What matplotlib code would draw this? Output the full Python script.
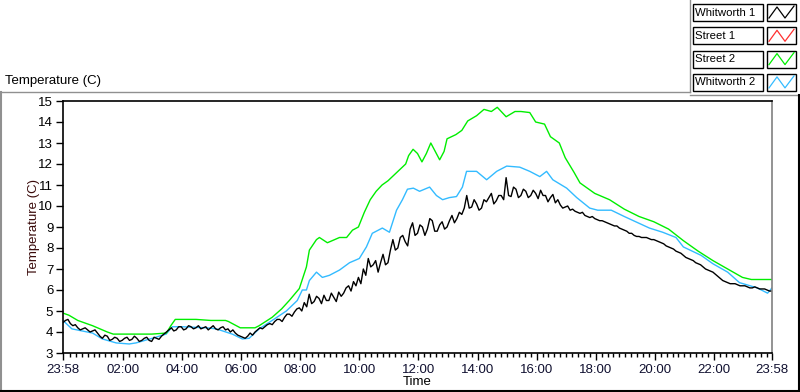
import matplotlib
matplotlib.use("Agg")
import matplotlib.pyplot as plt
from matplotlib.lines import Line2D
from matplotlib.patches import Rectangle

# hours since 23:58
green_t = [0, 0.2, 0.5, 1.0, 1.5, 1.7, 2.0, 2.5, 3.0, 3.5, 3.65, 3.8, 4.0, 4.5, 5.0, 5.5,
           5.6, 5.8, 6.0, 6.5, 6.64, 7.08, 7.4, 7.66, 8.0, 8.24, 8.34, 8.58, 8.68, 8.95,
           9.36, 9.6, 9.8, 10.0, 10.2, 10.4, 10.6, 10.8, 11.0, 11.3, 11.6, 11.7, 11.85,
           12.0, 12.15, 12.3, 12.45, 12.6, 12.75, 12.9, 13.0, 13.3, 13.5, 13.7, 14.0,
           14.25, 14.5, 14.7, 15.0, 15.3, 15.5, 15.8, 16.0, 16.3, 16.5, 16.8, 17.0, 17.3,
           17.5, 18.0, 18.5, 19.0, 19.5, 20.0, 20.5, 21.0, 21.5, 22.0, 22.5, 23.0, 23.3,
           23.5, 24.0]
green_v = [4.9, 4.8, 4.55, 4.3, 4.0, 3.9, 3.9, 3.9, 3.9, 3.95, 4.3, 4.6, 4.6, 4.6, 4.55,
           4.55, 4.5, 4.35, 4.2, 4.2, 4.3, 4.7, 5.1, 5.5, 6.07, 7.1, 7.9, 8.4, 8.5, 8.25,
           8.5, 8.5, 8.85, 9.0, 9.7, 10.3, 10.7, 11.0, 11.2, 11.6, 12.0, 12.4, 12.7,
           12.5, 12.1, 12.5, 13.0, 12.6, 12.2, 12.6, 13.2, 13.4, 13.6, 14.05, 14.3,
           14.6, 14.5, 14.7, 14.25, 14.5, 14.5, 14.45, 14.0, 13.9, 13.3, 13.0, 12.3, 11.6,
           11.1, 10.6, 10.3, 9.85, 9.5, 9.25, 8.9, 8.35, 7.85, 7.4, 7.0, 6.6, 6.5,
           6.5, 6.5]

blue_t = [0, 0.3, 1.0, 1.33, 1.8, 2.24, 2.47, 3.02, 3.49, 3.7, 4.03, 4.85, 5.19, 5.73,
          6.07, 6.3, 6.64, 7.08, 7.56, 7.93, 8.1, 8.24, 8.34, 8.58, 8.78, 9.02, 9.36,
          9.7, 10.03, 10.27, 10.47, 10.81, 11.05, 11.29, 11.49, 11.66, 11.86, 12.07,
          12.41, 12.64, 12.85, 13.08, 13.32, 13.52, 13.66, 14.0, 14.34, 14.68, 15.02,
          15.46, 15.8, 16.14, 16.37, 16.58, 17.05, 17.39, 17.83, 18.1, 18.56, 19.0,
          19.85, 20.3, 20.75, 21.0, 21.6, 22.0, 22.5, 22.9, 23.5, 23.85, 24.0]
blue_v = [4.55, 4.15, 3.95, 3.67, 3.48, 3.43, 3.48, 3.7, 3.9, 4.25, 4.25, 4.2, 4.15,
          3.9, 3.67, 3.7, 4.15, 4.55, 5.0, 5.5, 6.0, 6.0, 6.45, 6.85, 6.6, 6.7, 6.95,
          7.3, 7.5, 8.05, 8.7, 8.95, 8.75, 9.8, 10.3, 10.8, 10.85, 10.7,
          10.9, 10.5, 10.3, 10.4, 10.45, 10.9, 11.65, 11.65, 11.25, 11.65, 11.9,
          11.85, 11.65, 11.4, 11.65, 11.25, 10.85, 10.4, 9.9, 9.8, 9.8, 9.5,
          8.95, 8.75, 8.5, 8.05, 7.65, 7.25, 6.85, 6.35, 6.1, 5.85, 6.1]

# Whitworth 1, one value every 5 minutes
black_v = [4.45, 4.55, 4.6, 4.4, 4.3, 4.35, 4.2, 4.1, 4.15, 4.2, 4.1, 4.0, 4.05, 4.1,
           3.95, 3.8, 3.7, 3.85, 3.8, 3.6, 3.65, 3.75, 3.7, 3.55, 3.6, 3.7, 3.75, 3.6,
           3.65, 3.8, 3.7, 3.55, 3.6, 3.7, 3.75, 3.6, 3.55, 3.75, 3.7, 3.65, 3.8, 3.9,
           4.0, 4.1, 4.2, 4.05, 4.1, 4.25, 4.25, 4.1, 4.15, 4.3, 4.25, 4.15, 4.2, 4.3,
           4.15, 4.2, 4.25, 4.1, 4.2, 4.3, 4.15, 4.1, 4.2, 4.25, 4.1, 4.15, 4.0, 4.1,
           3.95, 3.85, 3.8, 3.75, 3.7, 3.8, 3.95, 3.85, 4.0, 4.1, 4.2, 4.15, 4.25, 4.35,
           4.4, 4.35, 4.5, 4.6, 4.6, 4.5, 4.7, 4.85, 4.85, 4.75, 4.95, 5.1, 5.15, 5.0,
           5.4, 5.2, 5.8, 5.35, 5.45, 5.7, 5.6, 5.35, 5.75, 5.5, 5.5, 5.85, 5.65, 5.45,
           5.9, 5.7, 5.85, 6.1, 6.2, 5.95, 6.4, 6.2, 6.6, 6.3, 7.0, 6.7, 7.5, 7.1,
           7.2, 7.4, 6.85, 7.3, 7.7, 7.2, 7.3, 7.9, 8.4, 7.9, 8.0, 8.5, 8.6, 8.3,
           8.1, 8.9, 9.2, 8.6, 8.7, 9.1, 9.0, 8.6, 8.9, 9.4, 9.3, 8.8, 8.8, 9.1,
           9.25, 8.9, 9.0, 9.3, 9.55, 9.2, 9.4, 9.7, 9.6, 9.9, 10.5, 9.9, 9.95, 10.3,
           10.1, 9.8, 9.9, 10.3, 10.2, 10.4, 10.6, 10.1, 10.25, 10.5, 10.5, 10.3,
           11.35, 10.5, 10.45, 10.9, 10.8, 10.4, 10.5, 10.8, 10.7, 10.4, 10.5, 10.75,
           10.6, 10.35, 10.75, 10.5, 10.5, 10.2, 10.4, 10.55, 10.15, 10.3, 10.05, 9.9,
           9.95, 10.0, 9.8, 9.85, 9.75, 9.7, 9.65, 9.7, 9.55, 9.5, 9.45, 9.5, 9.4, 9.35,
           9.3, 9.3, 9.25, 9.2, 9.15, 9.1, 9.05, 9.05, 8.95, 8.9, 8.85, 8.8, 8.7, 8.7,
           8.6, 8.55, 8.55, 8.5, 8.5, 8.5, 8.45, 8.4, 8.4, 8.35, 8.3, 8.25, 8.2, 8.1,
           8.05, 8.0, 7.95, 7.85, 7.8, 7.75, 7.65, 7.55, 7.5, 7.45, 7.4, 7.3, 7.25, 7.2,
           7.1, 7.0, 6.95, 6.9, 6.85, 6.75, 6.65, 6.55, 6.45, 6.4, 6.35, 6.3, 6.3, 6.3,
           6.25, 6.2, 6.2, 6.2, 6.15, 6.1, 6.1, 6.15, 6.1, 6.05, 6.05, 6.05, 6.0, 5.95,
           5.95]
black_t = [i / 12 for i in range(len(black_v))]

street1_t = []
street1_v = []

series_names = ["Whitworth 1", "Street 1", "Street 2", "Whitworth 2"]
series_colors = ["#000000", "#ff3030", "#00ee00", "#33bbff"]

tick_labels = ["23:58", "02:00", "04:00", "06:00", "08:00", "10:00", "12:00",
               "14:00", "16:00", "18:00", "20:00", "22:00", "23:58"]

plt.rcParams['font.family'] = ['Liberation Sans', 'DejaVu Sans']
FS = 9.5
W, H = 800, 392
fig = plt.figure(figsize=(8, 3.92), dpi=100)
fig.patch.set_facecolor("white")

def fx(px):
    return px / W

def fy(py):
    return 1 - py / H

ax = fig.add_axes([fx(63), fy(353), fx(772) - fx(63), fy(101) - fy(353)])
ax.plot(blue_t, blue_v, color=series_colors[3], lw=1.0)
ax.plot(green_t, green_v, color=series_colors[2], lw=1.0)
ax.plot(street1_t, street1_v, color=series_colors[1], lw=1.0)
ax.plot(black_t, black_v, color=series_colors[0], lw=1.0)

ax.set_xlim(0, 24)
ax.set_ylim(3, 15)
major = [0] + [2 * i + 2 / 60 for i in range(1, 12)] + [24]
ax.set_xticks(major)
ax.set_xticklabels(tick_labels, fontsize=FS, color="#101030")
minor = [2 / 60 + 0.2 * k for k in range(120) if k % 10 != 0]
ax.set_xticks(minor, minor=True)
ax.set_yticks(range(3, 16))
ax.tick_params(axis="y", labelsize=FS, length=5, width=1, pad=2)
ax.tick_params(axis="x", which="major", length=5, width=1, pad=3)
ax.tick_params(axis="x", which="minor", length=3, width=1)
for s in ["left", "bottom", "top"]:
    ax.spines[s].set_color("black")
    ax.spines[s].set_linewidth(1.2)
ax.spines["right"].set_color("#808080")
ax.spines["right"].set_linewidth(1.2)

ax.set_xlabel("Time", fontsize=FS, labelpad=0)
ax.set_ylabel("Temperature (C)", fontsize=FS, color="#3a0a0a", labelpad=-1)

fig.text(fx(5), fy(81), "Temperature (C)", fontsize=FS, va="center", ha="left")

# outer frame
fig.add_artist(Line2D([fx(1), fx(690)], [fy(92), fy(92)], color="#909090", lw=1))
fig.add_artist(Line2D([fx(1), fx(1)], [fy(92), fy(392)], color="#909090", lw=1.5))
fig.add_artist(Line2D([fx(690), fx(690)], [fy(0), fy(92)], color="#909090", lw=1))
fig.add_artist(Line2D([fx(690), fx(800)], [fy(95), fy(95)], color="#909090", lw=1))
fig.add_artist(Line2D([fx(0), fx(800)], [fy(391), fy(391)], color="black", lw=1.5))
fig.add_artist(Line2D([fx(799), fx(799)], [fy(95), fy(392)], color="black", lw=1.5))

# legend
for i, (name, col) in enumerate(zip(series_names, series_colors)):
    top = 4 + 23.3 * i
    bot = top + 17
    fig.add_artist(Rectangle((fx(693), fy(bot)), fx(763) - fx(693), fy(top) - fy(bot),
                             transform=fig.transFigure, facecolor="white",
                             edgecolor="black", lw=1))
    fig.add_artist(Rectangle((fx(767), fy(bot)), fx(796) - fx(767), fy(top) - fy(bot),
                             transform=fig.transFigure, facecolor="white",
                             edgecolor="black", lw=1))
    fig.text(fx(695), fy((top + bot) / 2), name, fontsize=8.2, va="center", ha="left")
    zx = [769, 777, 785, 794]
    zy = [bot - 3, top + 3, bot - 3, top + 2]
    fig.add_artist(Line2D([fx(v) for v in zx], [fy(v) for v in zy], color=col, lw=0.9))

fig.savefig("out.png", dpi=100)
